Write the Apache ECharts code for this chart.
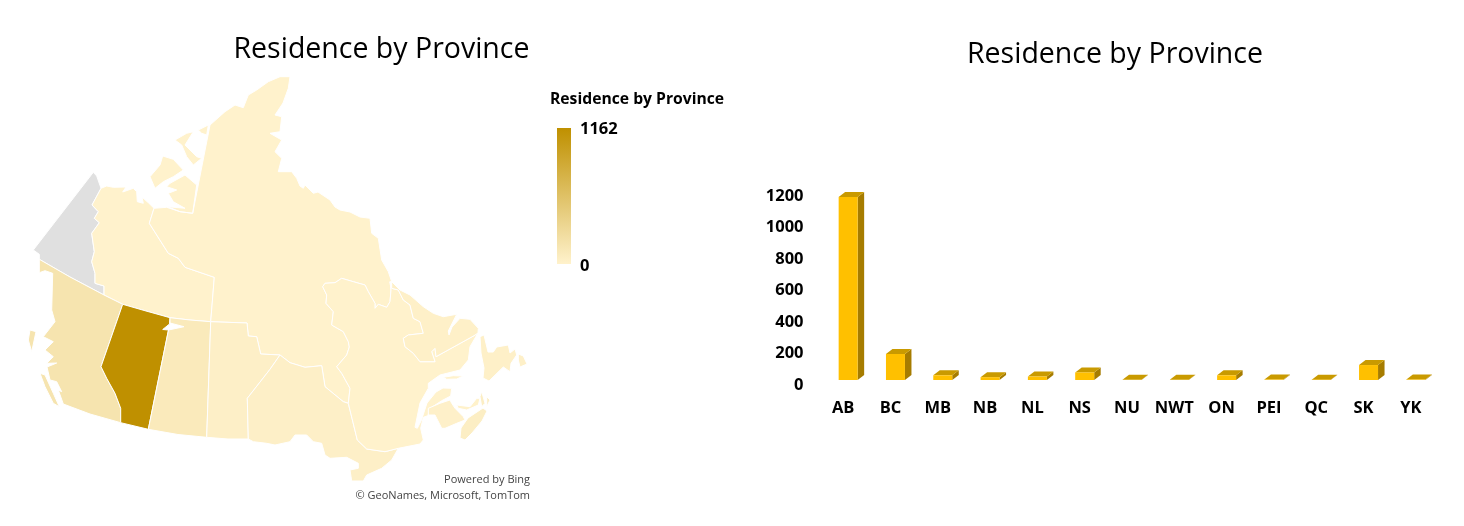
<!DOCTYPE html>
<html><head><meta charset="utf-8">
<style>html,body{margin:0;padding:0;background:#fff}#c{width:1464px;height:526px}</style>
<script src="https://cdn.jsdelivr.net/npm/echarts@6/dist/echarts.min.js"></script>
</head><body><div id="c"></div>
<script>
const titleText = 'Residence by Province';
const categories = ['AB','BC','MB','NB','NL','NS','NU','NWT','ON','PEI','QC','SK','YK'];
const residents  = [1162,165,30,18,22,48,1,1,30,3,2,95,3];
const yTicks = [0,200,400,600,800,1000,1200];
const mapMax = 1162, mapMin = 0;
const rampLow = '#FFF2CC', rampHigh = '#BF9000';
const noBoundaryMatch = ['YK'];

const shapeYK = [[[93.3,172.3],[96.7,176],[101,188.3],[92,205],[98.3,211.7],[94.3,218.3],[99.3,222.7],[91.7,233.3],[94.3,251.7],[91.7,261.7],[95,273.3],[95,283.3],[104,286],[104,295],[70,277],[39.3,259.3],[39.3,254.3],[33.3,250]]];
const shapeNWT = [[[101,188.3],[106.7,186],[113.3,187.3],[126,187],[122.7,192],[133.3,188.3],[136.7,191.7],[137.3,201.7],[143.3,203.3],[142,197],[148.3,202.7],[154,208.3],[149.3,223.3],[168.3,253.3],[178.3,258.3],[185,267.3],[214.3,277.3],[212.5,300],[210.7,321.7],[190,320],[170,317.7],[146,311],[122.7,304.3],[104,295],[104,286],[95,283.3],[95,273.3],[91.7,261.7],[94.3,251.7],[91.7,233.3],[99.3,222.7],[94.3,218.3],[98.3,211.7],[92,205]]];
const shapeNU = [
 [[154,208.3],[166.7,207.3],[180,211.7],[192.7,213.3],[210,125],[225,111.7],[235,105],[243.3,107.7],[248.3,95],[256.7,90],[268.3,81.7],[280,76.7],[290,76.7],[288.3,88.3],[283,103],[275,115],[281.7,116.7],[280,131.7],[270,133.3],[281.7,140],[275,151.7],[281.7,158.3],[278.3,171.7],[291.7,171.7],[296.7,178.3],[300,186],[303.3,188.3],[305,185],[313.3,193.3],[318,192],[330,200],[335,207],[340,210],[350,212],[360,217],[370,218.3],[371.7,233.3],[378.3,238.3],[381.7,260],[388.3,271.7],[391.7,281.7],[390,281.7],[391,290],[390,301.7],[386.7,307.3],[378.3,304.3],[375,308.3],[375,303.3],[368.3,291.7],[365,285],[353.3,281.7],[341.7,278.3],[335,282.7],[325,283.3],[322.7,286.7],[326.7,295],[326,303.3],[333.3,311.7],[331.7,325],[343.3,331.7],[348.3,341.7],[349.3,347],[346.7,355],[336.7,366.7],[341.7,373.3],[350,388.3],[348.3,403.3],[343.3,401.7],[325,386.7],[321.7,365.7],[305,367.3],[290,362.7],[280,355],[260.7,354],[256.7,336.7],[248.3,336],[247,323],[210.7,321.7],[214.3,277.3],[185,267.3],[178.3,258.3],[168.3,253.3],[149.3,223.3]],
 [[170,183.3],[185,175],[196.7,185],[192.7,213.3],[180,211.7],[167.7,206.7],[185,208.3],[173.3,201.7],[168.3,193.3],[176.7,190],[166.7,186.7]],
 [[162.7,156],[173.3,159.3],[183.3,170],[173.3,176.7],[163.3,181.7],[155,188.3],[150,176.7],[160,165]],
 [[175,140],[186.7,133.3],[193.3,131.7],[185,145],[196.7,156.7],[201.7,158.3],[193.3,165],[186.7,156.7],[181.7,145]],
 [[198.3,130],[208.3,125],[206.7,135],[201.7,133.3]]
];
const shapeBC = [
 [[39.3,259.3],[70,277],[104,295],[122.7,304.3],[101,366.7],[106.7,378.3],[115,393.3],[120.7,408.3],[120.7,422.7],[90,414],[63.3,404],[58.3,390],[61.7,391.7],[56.7,381.7],[50,380],[47,367],[56.7,363],[46.7,363.3],[53.3,356.7],[45,350],[53.3,341.7],[43.3,336.7],[55,321.7],[51.7,310],[52.7,273.3],[45,270.7],[39.3,272.7]],
 [[30,330],[36,331.7],[31.7,351.7],[28.3,340]],
 [[40,373.3],[45,375],[53.3,393.3],[59.3,406.7],[53.3,403.3],[45,386.7]]
];
const shapeAB = [[[122.7,304.3],[146,311],[170,317.7],[169.5,324],[162.7,329.5],[168.5,330],[148.3,429.3],[120.7,422.7],[120.7,408.3],[115,393.3],[106.7,378.3],[101,366.7]]];
const shapeSK = [[[170,317.7],[190,320],[210.7,321.7],[206.7,437.3],[178,434.5],[148.3,429.3],[168.5,330],[184,326.7],[170,323]]];
const shapeMB = [[[210.7,321.7],[247,323],[248.3,336],[256.7,336.7],[260.7,354],[280,355],[270,369.3],[247.3,398.3],[248.3,439],[228,439],[206.7,437.3]]];
const shapeON = [[[280,355],[290,362.7],[305,367.3],[321.7,365.7],[325,386.7],[343.3,401.7],[348.3,403.3],[357.3,440],[366.7,449],[385,451.7],[398.3,448.3],[391.7,460],[381.7,468.3],[366.7,475],[363.3,481],[351.7,481],[350,470],[358.3,468.3],[358.3,463.3],[346.7,457.3],[330,458.3],[325,455],[321.7,443.3],[313.3,441.7],[306.7,435],[295,435],[290,441.7],[275,445],[266.7,443.3],[253.3,441.7],[248.3,439],[247.3,398.3],[270,369.3]]];
const shapeQC = [[[325,283.3],[335,282.7],[341.7,278.3],[353.3,281.7],[365,285],[368.3,291.7],[375,303.3],[375,308.3],[378.3,304.3],[386.7,307.3],[390,301.7],[391,290],[390,281.7],[391.7,288.3],[398.3,290],[403.3,300],[410,305],[413.3,318.3],[420,321.7],[423.3,333.3],[408.3,335],[403.3,338.3],[405,346.7],[413.3,353.3],[420,361.7],[435,361.7],[431.7,351.7],[435,348.3],[436,356.7],[474,335.7],[478,333],[470,346.7],[468.3,360],[460,370],[440,375],[428.3,383.3],[428.3,388.3],[420,403],[415,427.3],[417.3,428.3],[421.5,420],[427,403],[436,392],[443,388],[451.7,388.3],[450.7,396],[441.7,400.7],[431.7,407.3],[427.7,415.7],[423.3,417.3],[420.7,428.3],[423.3,440],[420,444],[398.3,448.3],[385,451.7],[366.7,449],[357.3,440],[348.3,403.3],[350,388.3],[341.7,373.3],[336.7,366.7],[346.7,355],[349.3,347],[348.3,341.7],[343.3,331.7],[331.7,325],[333.3,311.7],[326,303.3],[326.7,295],[322.7,286.7]],
 [[443.3,377.3],[453.3,375.7],[463.3,376],[456.7,379],[446.7,379.3]]];
const shapeNL = [
 [[391.7,281.7],[400,290],[410,295],[423.3,306.7],[433.3,313.3],[443.3,316.7],[456.7,314.3],[448.3,331],[449,335],[452,327],[460,318.3],[470,319.3],[478.3,328.3],[478,333],[474,335.7],[436,356.7],[435,348.3],[431.7,351.7],[435,361.7],[420,361.7],[413.3,353.3],[405,346.7],[403.3,338.3],[408.3,335],[423.3,333.3],[420,321.7],[413.3,318.3],[410,305],[403.3,300],[398.3,290],[391.7,288.3]],
 [[480,336.7],[484,335],[488,352],[493.3,352],[496.7,347],[508.3,345],[510,353],[515,349],[516.7,355],[511,363.3],[510,371.7],[503.3,367],[489,381],[483,378],[484,368],[481,353]],
 [[518.3,354],[523.3,356],[527,364],[520,367],[518.3,360]]
];
const shapeNB = [[[428.3,408.3],[440,403.3],[450,400],[451.7,403.3],[455,408.3],[463.3,416.7],[465,420],[456.7,423.3],[445,428.3],[441.7,428.3],[435,415],[428.3,415]]];
const shapePEI = [[[456.7,405],[470,406.7],[476.7,398.3],[480,398.3],[478.3,405],[466.7,410],[458.3,408.3]]];
const shapeNS = [
 [[460,438],[461,428],[468,418],[483,408],[487,411],[482,421],[472,433],[465,440]],
 [[481.7,391.7],[485,403.3],[481.7,406.7],[480,396.7]],
 [[486.7,396.7],[490,400],[486.7,406.7]]
];
const provinceShapes = {YK:shapeYK,NWT:shapeNWT,NU:shapeNU,BC:shapeBC,AB:shapeAB,SK:shapeSK,MB:shapeMB,ON:shapeON,QC:shapeQC,NL:shapeNL,NB:shapeNB,PEI:shapePEI,NS:shapeNS};

function toGeo(shapes){
  return {type:'FeatureCollection',features:Object.keys(shapes).map(n=>({
    type:'Feature',properties:{name:n},
    geometry:{type:'MultiPolygon',coordinates:shapes[n].map(r=>{
      const ring=r.map(p=>[p[0],-p[1]]);ring.push(ring[0].slice());return [ring];})}
  }))};
}
echarts.registerMap('canada',toGeo(provinceShapes));

const mapData = categories.map((c,i)=>({name:c,value:residents[i]})).filter(d=>!noBoundaryMatch.includes(d.name));
const FONT = '"Open Sans","Noto Sans",sans-serif';

function renderBar(params,api){
  const cat=api.value(0), val=api.value(1);
  const base=api.coord([cat,0]), top=api.coord([cat,val]);
  const w=19, dx=6.5, dy=5;
  const x0=base[0]+5-w/2, x1=x0+w, yb=base[1], yt=top[1];
  return {type:'group',children:[
    {type:'polygon',shape:{points:[[x1,yb],[x1+dx,yb-dy],[x1+dx,yt-dy],[x1,yt]]},style:{fill:'#A67C00'}},
    {type:'polygon',shape:{points:[[x0,yt],[x0+dx,yt-dy],[x1+dx,yt-dy],[x1,yt]]},style:{fill:'#C99A00'}},
    {type:'rect',shape:{x:x0,y:yt,width:w,height:yb-yt},style:{fill:'#FFC000'}}
  ]};
}
function tx(text,pos,size,weight,color){
  return Object.assign({text,padding:0,textVerticalAlign:'middle',
    textStyle:{fontFamily:FONT,fontSize:size,fontWeight:weight,color}},pos);
}

const chart=echarts.init(document.getElementById('c'));
chart.setOption({
  animation:false,
  backgroundColor:'#fff',
  title:[
    tx(titleText,{left:381.5,top:50,textAlign:'center'},28.5,'normal','#000'),
    tx(titleText,{left:1115,top:55,textAlign:'center'},28.5,'normal','#000'),
    tx(titleText,{left:550,top:100},15.7,'bold','#000'),
    tx(String(mapMax),{left:580,top:129},16.5,'bold','#000'),
    tx(String(mapMin),{left:580,top:266},16.5,'bold','#000'),
    tx('Powered by Bing',{right:934,top:480},11,'normal','#444'),
    tx('© GeoNames, Microsoft, TomTom',{right:934,top:496},11,'normal','#444')
  ],
  visualMap:{type:'continuous',show:false,seriesIndex:0,min:mapMin,max:mapMax,inRange:{color:[rampLow,rampHigh]}},
  graphic:[{type:'rect',left:557,top:128,shape:{width:14,height:136},silent:true,
    style:{fill:new echarts.graphic.LinearGradient(0,0,0,1,[{offset:0,color:rampHigh},{offset:1,color:rampLow}])}}],
  grid:{left:819.5,right:29.5,top:191,height:189,containLabel:false},
  xAxis:{type:'category',data:categories,axisLine:{show:false},axisTick:{show:false},
    axisLabel:{interval:0,margin:20,fontFamily:FONT,fontSize:16.5,fontWeight:'bold',color:'#000'}},
  yAxis:{type:'value',min:0,max:1200,interval:200,splitLine:{show:false},axisLine:{show:false},axisTick:{show:false},
    axisLabel:{margin:16,fontFamily:FONT,fontSize:16.5,fontWeight:'bold',color:'#000',verticalAlign:'top',lineHeight:10,
      formatter:v=>yTicks.includes(v)?String(v):''}},
  series:[
    {type:'map',map:'canada',aspectScale:1,boundingCoords:[[0,0],[1464,-526]],left:0,top:0,width:1464,height:526,roam:false,silent:true,
     label:{show:false},itemStyle:{areaColor:'#E0E0E0',borderColor:'#fff',borderWidth:1},data:mapData},
    {type:'custom',xAxisIndex:0,yAxisIndex:0,renderItem:renderBar,silent:true,
     encode:{x:0,y:1},data:categories.map((c,i)=>[i,residents[i]])}
  ]
});
</script></body></html>
